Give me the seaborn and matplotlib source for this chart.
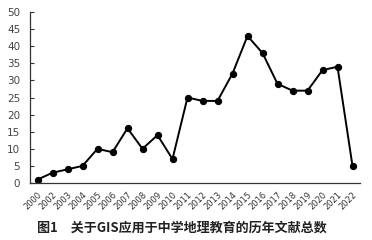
import matplotlib
matplotlib.use("Agg")
import matplotlib.pyplot as plt
import seaborn as sns
import pandas as pd
import numpy as np

years = ["2000", "2002", "2003", "2004", "2005", "2006", "2007", "2008", "2009", "2010", "2011",
         "2012", "2013", "2014", "2015", "2016", "2017", "2018", "2019", "2020", "2021", "2022"]
counts = [1, 3, 4, 5, 10, 9, 16, 10, 14, 7, 25, 24, 24, 32, 43, 38, 29, 27, 27, 33, 34, 5]
yticks = [0, 5, 10, 15, 20, 25, 30, 35, 40, 45, 50]
caption = "图1　关于GIS应用于中学地理教育的历年文献总数"

sns.set_style("white")
plt.rcParams['font.family'] = ['Noto Sans CJK SC', 'DejaVu Sans']

df = pd.DataFrame({"pos": np.arange(len(years)), "count": counts})

fig = plt.figure(figsize=(3.72, 2.40), dpi=100)
ax = fig.add_axes([30/372, 1 - 183/240, 330/372, 171/240])
sns.lineplot(data=df, x="pos", y="count", ax=ax, color="black", linewidth=1.4,
             marker="o", markersize=4.5, markeredgecolor="black", markerfacecolor="black")

ax.set_xlim(-0.5, len(years) - 0.5)
ax.set_ylim(0, 50)
ax.set_yticks(yticks)
ax.set_yticklabels([str(t) for t in yticks], fontsize=7.5, color="#444444", family="DejaVu Sans")
ax.set_xticks(np.arange(len(years)))
ax.set_xticklabels(years, rotation=45, ha="right", rotation_mode="anchor", fontsize=6,
                   color="#333333", family="DejaVu Sans")
ax.set_xticks(np.arange(len(years) + 1) - 0.5, minor=True)
ax.tick_params(axis="x", which="major", length=0, pad=5)
ax.tick_params(axis="x", which="minor", direction="in", length=3, width=0.8, color="#333333")
ax.tick_params(axis="y", which="major", direction="in", length=3, width=0.8, color="#333333", pad=7, left=True)
ax.set_xlabel("")
ax.set_ylabel("")
for s in ["top", "right"]:
    ax.spines[s].set_visible(False)
for s in ["left", "bottom"]:
    ax.spines[s].set_color("#333333")
    ax.spines[s].set_linewidth(0.9)

fig.text(181.5/372, 1 - 228/240, caption, ha="center", va="center", fontsize=9.4,
         fontweight="bold", color="#222222")

fig.savefig("out.png", dpi=100)
